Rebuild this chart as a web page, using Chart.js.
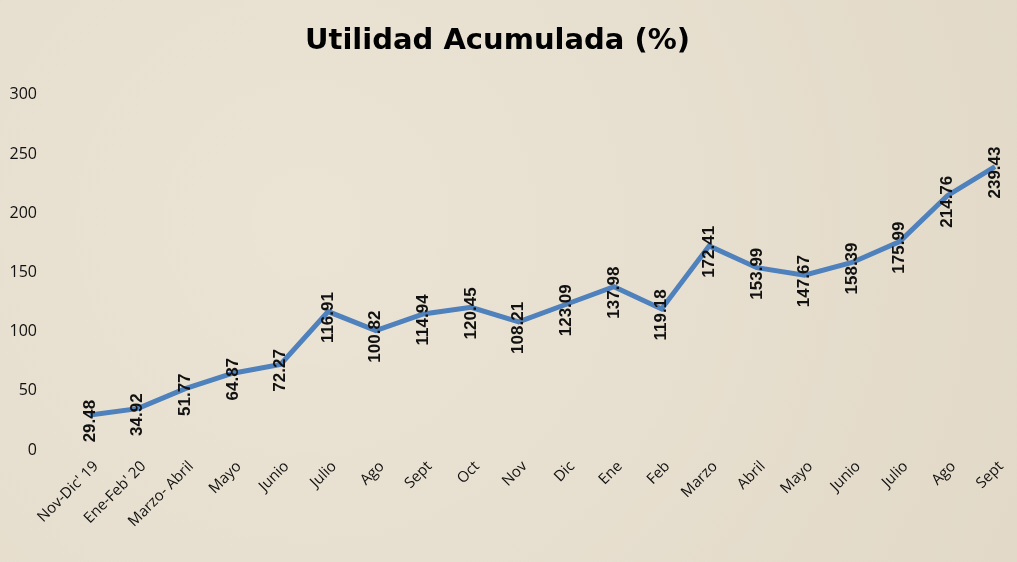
<!DOCTYPE html>
<html><head><meta charset="utf-8">
<script src="https://cdn.jsdelivr.net/npm/chart.js@4/dist/chart.umd.min.js"></script>
<style>html,body{margin:0;padding:0;background:#e7dfcf;}#w{width:1017px;height:562px;position:relative;background:radial-gradient(circle at 30% 40%,#ebe4d5,#e2d9c8);}</style>
</head><body><div id="w"><canvas id="c" width="1017" height="562"></canvas></div>
<script>
const categories=["Nov-Dic' 19","Ene-Feb' 20","Marzo- Abril","Mayo","Junio","Julio","Ago","Sept","Oct","Nov","Dic","Ene","Feb","Marzo","Abril","Mayo","Junio","Julio","Ago","Sept"];
const values=[29.48,34.92,51.77,64.87,72.27,116.91,100.82,114.94,120.45,108.21,123.09,137.98,119.18,172.41,153.99,147.67,158.39,175.99,214.76,239.43];
const yTicks=[0,50,100,150,200,250,300];
const labelPlugin={id:'lbl',afterDatasetsDraw(chart){const ctx=chart.ctx;const meta=chart.getDatasetMeta(0);ctx.save();ctx.font='bold 17px "Liberation Sans"';ctx.fillStyle='#111';ctx.textAlign='center';ctx.textBaseline='middle';meta.data.forEach((p,i)=>{ctx.save();ctx.translate(p.x,p.y+6);ctx.rotate(-Math.PI/2);ctx.fillText(values[i].toFixed(2),0,0);ctx.restore();});
const xs=chart.scales.x;ctx.font='15px "Open Sans"';ctx.textAlign='right';ctx.textBaseline='middle';
categories.forEach((c,i)=>{const x=xs.getPixelForValue(i);ctx.save();ctx.translate(x+6,chart.chartArea.bottom+14);ctx.rotate(-Math.PI/4);ctx.fillText(c,0,0);ctx.restore();});
ctx.restore();}};
new Chart(document.getElementById('c'),{type:'line',data:{labels:categories,datasets:[{data:values,borderColor:'#4f81bd',borderWidth:5,pointRadius:0,tension:0,fill:false}]},
options:{responsive:false,animation:false,layout:{padding:{left:0,right:22,top:10,bottom:104}},
plugins:{legend:{display:false},tooltip:{enabled:false},title:{display:true,text:'Utilidad Acumulada (%)',color:'#000',font:{family:'"DejaVu Sans"',size:29,weight:'bold'},padding:{top:14,bottom:36}}},
scales:{x:{offset:false,grid:{display:false},border:{display:false},ticks:{display:false}},
y:{min:0,max:300,afterBuildTicks(a){a.ticks=yTicks.map(v=>({value:v}));},afterFit(a){a.width=90;},grid:{display:false},border:{display:false},ticks:{color:'#111',font:{family:'"Open Sans"',size:16},padding:45}}}},
plugins:[labelPlugin]});
</script></body></html>
